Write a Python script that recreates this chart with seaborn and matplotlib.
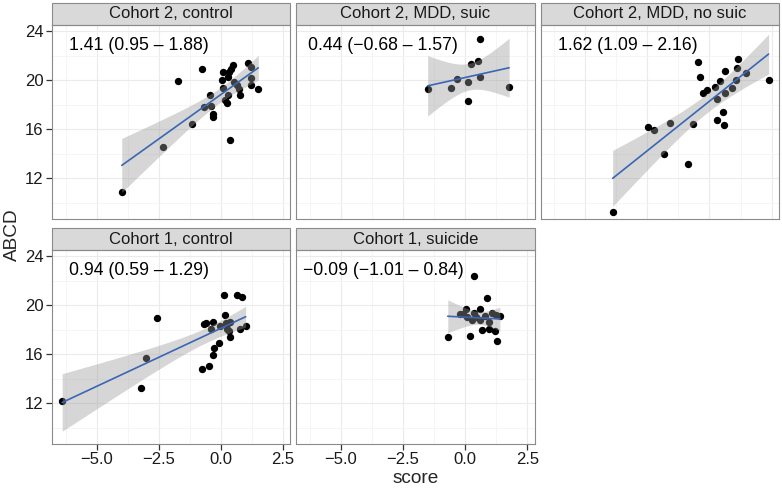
import math
import numpy as np
import pandas as pd
import seaborn as sns
import matplotlib.pyplot as plt
from matplotlib.patches import Rectangle
from matplotlib.ticker import FuncFormatter

panels = ["Cohort 2, control", "Cohort 2, MDD, suic", "Cohort 2, MDD, no suic",
          "Cohort 1, control", "Cohort 1, suicide"]
estimates = ["1.41 (0.95 \u2013 1.88)", "0.44 (\u22120.68 \u2013 1.57)", "1.62 (1.09 \u2013 2.16)",
             "0.94 (0.59 \u2013 1.29)", "\u22120.09 (\u22121.01 \u2013 0.84)"]

# values
c2_control_score = [-3.99, -2.32, -1.74, -1.16, -0.75, -0.66, -0.45, -0.40, -0.33, -0.31,
                    0.03, 0.09, 0.09, 0.16, 0.23, 0.27, 0.27, 0.33, 0.36, 0.40,
                    0.49, 0.52, 0.66, 0.74, 0.78, 1.10, 1.20, 1.23, 1.23, 1.51]
c2_control_abcd = [10.93, 14.53, 19.90, 16.47, 20.95, 17.80, 18.82, 17.90, 17.26, 17.04,
                   19.99, 20.67, 19.36, 18.41, 18.14, 18.82, 20.26, 20.67, 15.16, 20.95,
                   21.27, 19.85, 19.58, 19.31, 18.76, 21.40, 21.08, 20.21, 19.58, 19.31]

c2_suic_score = [-1.51, -0.58, -0.33, 0.13, 0.13, 0.25, 0.51, 0.60, 0.60, 1.77]
c2_suic_abcd = [19.31, 19.36, 20.13, 19.85, 18.27, 21.36, 21.55, 23.37, 20.29, 19.44]

c2_nosuic_score = [-3.90, -2.49, -2.24, -1.83, -1.59, -0.86, -0.67, -0.47, -0.37, -0.28,
                   -0.11, 0.23, 0.29, 0.29, 0.44, 0.56, 0.59, 0.62, 0.64, 0.91,
                   1.07, 1.10, 1.14, 1.47, 2.38]
c2_nosuic_abcd = [9.27, 16.20, 15.96, 14.02, 16.53, 13.17, 16.45, 21.49, 20.29, 19.00,
                  19.20, 19.44, 18.49, 16.74, 19.91, 17.45, 16.33, 20.78, 19.00, 19.39,
                  19.99, 21.00, 21.76, 20.56, 20.04]

c1_control_score = [-6.39, -3.20, -3.00, -2.56, -0.75, -0.67, -0.60, -0.48, -0.41, -0.31,
                    -0.29, -0.31, -0.08, -0.04, 0.13, 0.16, 0.19, 0.25, 0.29, 0.33,
                    0.35, 0.39, 0.67, 0.76, 0.84, 1.00]
c1_control_abcd = [12.19, 13.23, 15.68, 18.93, 14.81, 18.44, 18.52, 15.08, 18.05, 15.95,
                   16.50, 18.60, 16.94, 18.33, 20.81, 19.20, 18.57, 18.03, 18.52, 17.92,
                   17.43, 18.63, 20.81, 18.03, 20.70, 18.29]

c1_suicide_score = [-0.70, -0.19, -0.08, 0.04, 0.07, 0.20, 0.28, 0.37, 0.37, 0.45,
                    0.60, 0.61, 0.66, 0.78, 0.87, 0.96, 0.98, 1.10, 1.19, 1.23,
                    1.30, 1.40]
c1_suicide_abcd = [17.40, 19.31, 19.25, 19.69, 19.06, 17.48, 18.79, 22.42, 19.39, 19.03,
                   19.69, 18.79, 17.97, 19.14, 20.56, 18.08, 18.66, 19.34, 17.89, 19.20,
                   17.10, 19.11]

scores = [c2_control_score, c2_suic_score, c2_nosuic_score, c1_control_score, c1_suicide_score]
abcds = [c2_control_abcd, c2_suic_abcd, c2_nosuic_abcd, c1_control_abcd, c1_suicide_abcd]

df = pd.concat([pd.DataFrame({"score": s, "ABCD": a, "group": p})
                for s, a, p in zip(scores, abcds, panels)], ignore_index=True)


def t_quantile(p, dof):
    # inverse t cdf by bisection, no scipy needed
    c = math.exp(math.lgamma((dof + 1) / 2) - math.lgamma(dof / 2)) / math.sqrt(dof * math.pi)
    def cdf(t):
        xs = np.linspace(0, t, 2001)
        ys = c * (1 + xs ** 2 / dof) ** (-(dof + 1) / 2)
        return 0.5 + np.trapezoid(ys, xs)
    lo, hi = 0.0, 20.0
    for _ in range(60):
        mid = (lo + hi) / 2
        if cdf(mid) < p:
            lo = mid
        else:
            hi = mid
    return (lo + hi) / 2


def lm_band(x, y):
    # ggplot-style analytic 95% confidence band of the linear fit
    x, y = np.asarray(x), np.asarray(y)
    n = len(x)
    b, a = np.polyfit(x, y, 1)
    resid = y - (a + b * x)
    s = np.sqrt(resid @ resid / (n - 2))
    sxx = ((x - x.mean()) ** 2).sum()
    grid = np.linspace(x.min(), x.max(), 80)
    se = s * np.sqrt(1 / n + (grid - x.mean()) ** 2 / sxx)
    tq = t_quantile(0.975, n - 2)
    fit = a + b * grid
    return grid, fit - tq * se, fit + tq * se


sns.set_style("white")
plt.rcParams["font.family"] = ["Liberation Sans", "DejaVu Sans"]

g = sns.lmplot(data=df, x="score", y="ABCD", col="group", col_wrap=3, col_order=panels,
               height=2, aspect=1.2, ci=None,
               scatter_kws=dict(color="black", s=28, linewidths=0, alpha=1, zorder=2),
               line_kws=dict(color="#3A66B5", lw=1.2, zorder=4),
               facet_kws=dict(sharex=True, sharey=True))

fig = g.figure
fig.set_size_inches(7.82, 4.9)
fig.subplots_adjust(left=52/782, right=779/782, bottom=1-444/490, top=1-25/490,
                    wspace=6/238, hspace=31/194)

fmt_x = FuncFormatter(lambda v, p: f"{v:.1f}".replace("-", "\u2212"))
for i, (ax, name, est) in enumerate(zip(g.axes.flat, panels, estimates)):
    ax.set_title("")
    ax.set_xlabel("")
    ax.set_ylabel("")
    ax.set_xlim(-6.8, 2.8)
    ax.set_ylim(8.7, 24.5)
    ax.set_xticks([-5, -2.5, 0, 2.5])
    ax.set_xticks([-6.25, -3.75, -1.25, 1.25], minor=True)
    ax.set_yticks([12, 16, 20, 24])
    ax.set_yticks([10, 14, 18, 22], minor=True)
    ax.xaxis.set_major_formatter(fmt_x)
    ax.grid(which="major", color="#EBEBEB", lw=0.8, zorder=0)
    ax.grid(which="minor", color="#F4F4F4", lw=0.6, zorder=0)
    ax.set_axisbelow(True)
    for sp in ax.spines.values():
        sp.set_visible(True)
        sp.set_color("#8A8A8A")
        sp.set_linewidth(0.8)

    # grey ribbon drawn over the points like ggplot
    gx, lo, hi = lm_band(scores[i], abcds[i])
    ax.fill_between(gx, lo, hi, color="#999999", alpha=0.4, lw=0, zorder=3)

    ax.text(-3.3, 22.85, est, ha="center", va="center", fontsize=12.7, color="black")

    strip = Rectangle((0, 1), 1, 22/194, transform=ax.transAxes, clip_on=False,
                      facecolor="#D9D9D9", edgecolor="#8A8A8A", lw=0.8)
    ax.add_patch(strip)
    ax.text(0.5, 1 + 11/194, name, transform=ax.transAxes, ha="center", va="center",
            fontsize=12, color="#1A1A1A")

    left = i % 3 == 0
    bottom = i >= 3
    ax.tick_params(axis="y", which="major", left=left, labelleft=left, length=4,
                   width=0.9, color="#333333", labelsize=12, labelcolor="#1A1A1A", pad=2)
    ax.tick_params(axis="x", which="major", bottom=bottom, labelbottom=bottom, length=4,
                   width=0.9, color="#333333", labelsize=12, labelcolor="#1A1A1A", pad=2)
    ax.tick_params(which="minor", length=0)

fig.text(0.531, 1 - 478/490, "score", ha="center", va="center", fontsize=13.7)
fig.text(12/782, 1 - 234.5/490, "ABCD", ha="center", va="center", rotation=90, fontsize=13.7)

fig.savefig("out.png", dpi=100)
